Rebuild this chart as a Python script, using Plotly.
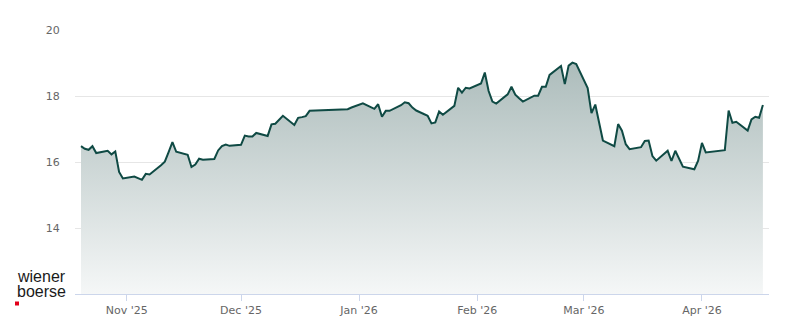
import plotly.graph_objects as go

dates = [
    "2025-10-20", "2025-10-21", "2025-10-22", "2025-10-23", "2025-10-24",
    "2025-10-27", "2025-10-28", "2025-10-29", "2025-10-30", "2025-10-31",
    "2025-11-03", "2025-11-04", "2025-11-05", "2025-11-06", "2025-11-07",
    "2025-11-10", "2025-11-11", "2025-11-12", "2025-11-13", "2025-11-14",
    "2025-11-17", "2025-11-18", "2025-11-19", "2025-11-20", "2025-11-21",
    "2025-11-24", "2025-11-25", "2025-11-26", "2025-11-27", "2025-11-28",
    "2025-12-01", "2025-12-02", "2025-12-03", "2025-12-04", "2025-12-05",
    "2025-12-08", "2025-12-09", "2025-12-10", "2025-12-11", "2025-12-12",
    "2025-12-15", "2025-12-16", "2025-12-17", "2025-12-18", "2025-12-19",
    "2025-12-29", "2025-12-30",
    "2026-01-02",
    "2026-01-05", "2026-01-06", "2026-01-07", "2026-01-08", "2026-01-09",
    "2026-01-12", "2026-01-13", "2026-01-14", "2026-01-15", "2026-01-16",
    "2026-01-19", "2026-01-20", "2026-01-21", "2026-01-22", "2026-01-23",
    "2026-01-26", "2026-01-27", "2026-01-28", "2026-01-29", "2026-01-30",
    "2026-02-02", "2026-02-03", "2026-02-04", "2026-02-05", "2026-02-06",
    "2026-02-09", "2026-02-10", "2026-02-11", "2026-02-12", "2026-02-13",
    "2026-02-16", "2026-02-17", "2026-02-18", "2026-02-19", "2026-02-20",
    "2026-02-23", "2026-02-24", "2026-02-25", "2026-02-26", "2026-02-27",
    "2026-03-02", "2026-03-03", "2026-03-04", "2026-03-05", "2026-03-06",
    "2026-03-09", "2026-03-10", "2026-03-11", "2026-03-12", "2026-03-13",
    "2026-03-16", "2026-03-17", "2026-03-18", "2026-03-19", "2026-03-20",
    "2026-03-23", "2026-03-24", "2026-03-25", "2026-03-26", "2026-03-27",
    "2026-03-30", "2026-03-31", "2026-04-01", "2026-04-02",
    "2026-04-07", "2026-04-08", "2026-04-09", "2026-04-10",
    "2026-04-13", "2026-04-14", "2026-04-15", "2026-04-16", "2026-04-17",
]

prices = [
    16.48, 16.40, 16.37, 16.48, 16.27,
    16.34, 16.23, 16.32, 15.70, 15.50,
    15.56, 15.52, 15.46, 15.64, 15.62,
    15.90, 16.01, 16.30, 16.60, 16.31,
    16.22, 15.85, 15.92, 16.10, 16.07,
    16.09, 16.35, 16.48, 16.53, 16.49,
    16.52, 16.80, 16.77, 16.77, 16.88,
    16.79, 17.14, 17.16, 17.28, 17.40,
    17.12, 17.34, 17.36, 17.39, 17.55,
    17.60, 17.65,
    17.78,
    17.61, 17.75, 17.37, 17.55, 17.55,
    17.72, 17.81, 17.78, 17.65, 17.56,
    17.40, 17.17, 17.20, 17.53, 17.43,
    17.70, 18.25, 18.10, 18.25, 18.23,
    18.38, 18.71, 18.15, 17.83, 17.77,
    18.05, 18.28, 18.04, 17.93, 17.83,
    18.01, 18.01, 18.28, 18.28, 18.64,
    18.91, 18.36, 18.92, 19.01, 18.97,
    18.24, 17.48, 17.74, 17.20, 16.65,
    16.48, 17.15, 16.95, 16.54, 16.39,
    16.45, 16.64, 16.65, 16.18, 16.04,
    16.34, 16.03, 16.34, 16.10, 15.86,
    15.78, 16.04, 16.58, 16.29,
    16.36, 17.56, 17.19, 17.22,
    16.95, 17.29, 17.37, 17.34, 17.73,
]

y_ticks = [14, 16, 18, 20]

W, H = 800, 324
L, R, T, B = 75, 31, 30, 30


def px(x):
    return (x - L) / (W - L - R)


def py(y):
    return (H - B - y) / (H - T - B)


fig = go.Figure()
fig.add_trace(go.Scatter(
    x=dates, y=prices, mode="lines",
    line=dict(color="#0f4a44", width=2),
    fill="tozeroy",
    fillgradient=dict(
        type="vertical", start=12, stop=19.05,
        colorscale=[[0, "rgb(245,247,247)"], [1, "rgb(172,188,187)"]],
    ),
    hoverinfo="skip",
))

fig.update_layout(
    width=W, height=H,
    margin=dict(l=L, r=R, t=T, b=B, autoexpand=False),
    paper_bgcolor="white", plot_bgcolor="white",
    showlegend=False,
    font=dict(family="DejaVu Sans", size=11, color="#666666"),
    xaxis=dict(
        type="date", automargin=False,
        range=["2025-10-18 10:12", "2026-04-18 14:24"],
        tick0="2025-11-01", dtick="M1", tickformat="%b '%y",
        showgrid=False, zeroline=False,
        showline=True, linecolor="#ccd6eb", linewidth=1,
        ticks="outside", tickcolor="#ccd6eb", ticklen=6, tickwidth=1,
        tickfont=dict(family="DejaVu Sans", size=11, color="#666666"),
    ),
    yaxis=dict(
        range=[12, 20], tickvals=y_ticks, automargin=False,
        showgrid=True, gridcolor="#e6e6e6", gridwidth=1,
        zeroline=False, showline=False,
        ticks="outside", ticklen=12, tickcolor="rgba(0,0,0,0)",
        tickfont=dict(family="DejaVu Sans", size=11, color="#666666"),
    ),
    annotations=[
        dict(text="wiener", x=px(15), y=py(276.5), xref="paper", yref="paper",
             xanchor="left", yanchor="middle", showarrow=False,
             font=dict(family="Liberation Sans", size=16, color="#1a1a1a")),
        dict(text="boerse", x=px(15), y=py(291.5), xref="paper", yref="paper",
             xanchor="left", yanchor="middle", showarrow=False,
             font=dict(family="Liberation Sans", size=16, color="#1a1a1a")),
    ],
    shapes=[
        dict(type="rect", xref="paper", yref="paper",
             x0=px(15), x1=px(19), y0=py(305.5), y1=py(301.5),
             fillcolor="#e2001a", line=dict(width=0)),
    ],
)

fig.write_html("out.html")
